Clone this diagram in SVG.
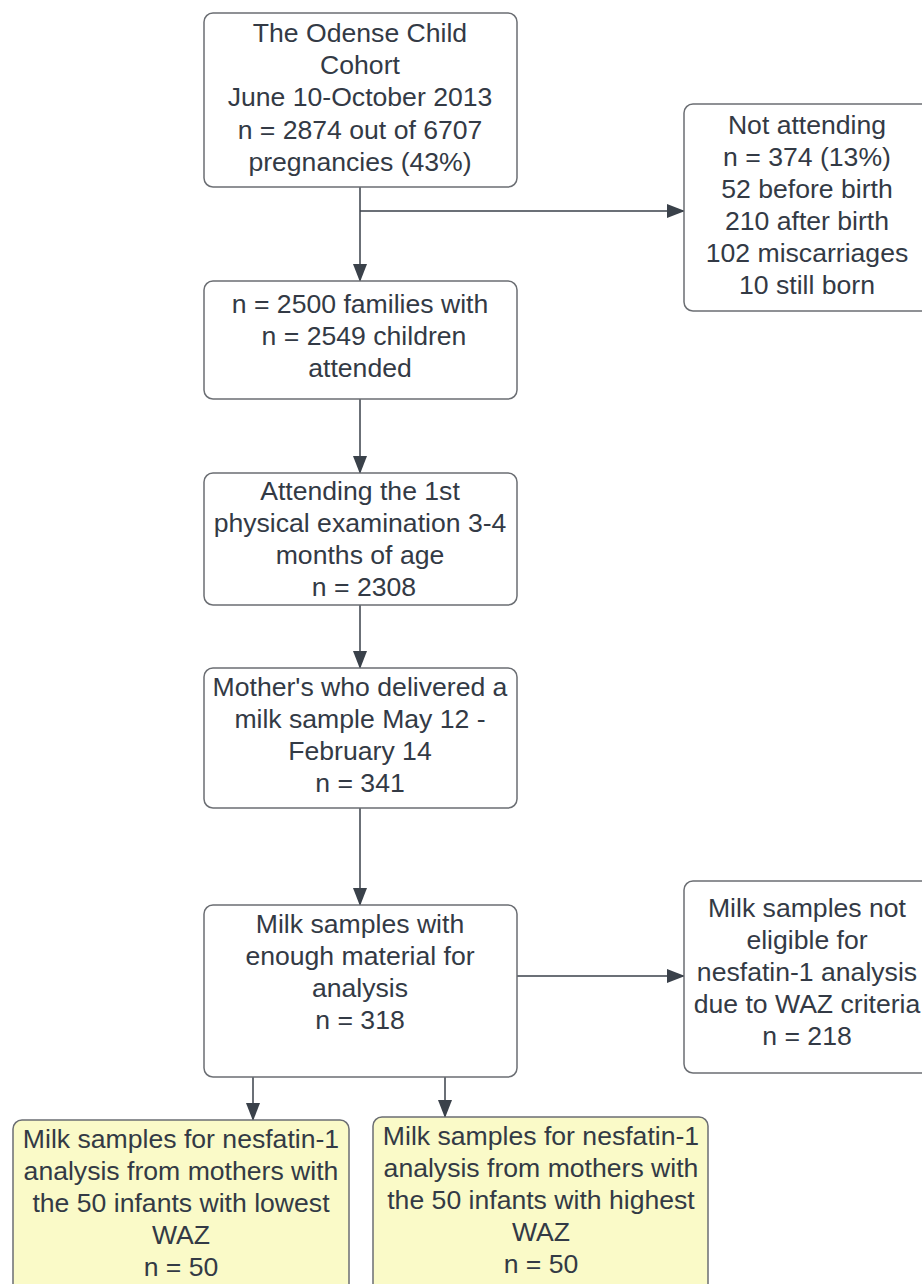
<svg xmlns="http://www.w3.org/2000/svg" width="922" height="1284" viewBox="0 0 922 1284">
<defs>
<style>
.box{fill:#ffffff;stroke:#6b6e73;stroke-width:1.5}
.yel{fill:#fafac8;stroke:#6b6e73;stroke-width:1.5}
text{font-family:"Liberation Sans",Arial,sans-serif;font-size:26.6px;fill:#333a45;text-anchor:middle}
.con{fill:none;stroke:#3a414a;stroke-width:1.5}
</style>
<marker id="arr" viewBox="0 0 18 14" refX="17" refY="7" markerWidth="18" markerHeight="14" markerUnits="userSpaceOnUse" orient="auto">
<path d="M0,0 L18,7 L0,14 Z" fill="#3a414a"/>
</marker>
</defs>
<rect width="922" height="1284" fill="#ffffff"/>
<g id="connectors">
<path class="con" d="M360,187 V281" marker-end="url(#arr)"/>
<path class="con" d="M360,211 H684" marker-end="url(#arr)"/>
<path class="con" d="M360,399 V473" marker-end="url(#arr)"/>
<path class="con" d="M360,605 V668" marker-end="url(#arr)"/>
<path class="con" d="M360,808 V905" marker-end="url(#arr)"/>
<path class="con" d="M517,976 H684" marker-end="url(#arr)"/>
<path class="con" d="M253,1077 V1120" marker-end="url(#arr)"/>
<path class="con" d="M445,1077 V1117" marker-end="url(#arr)"/>
</g>
<g id="cohort">
<rect class="box" x="204" y="13" width="313" height="174" rx="9"/>
<text x="360" y="42">The Odense Child</text>
<text x="360" y="74">Cohort</text>
<text x="360" y="106">June 10-October 2013</text>
<text x="360" y="139">n = 2874 out of 6707</text>
<text x="360" y="171">pregnancies (43%)</text>
</g>
<g id="not-attending">
<rect class="box" x="684" y="104" width="250" height="207" rx="9"/>
<text x="807" y="134">Not attending</text>
<text x="807" y="166">n = 374 (13%)</text>
<text x="807" y="198">52 before birth</text>
<text x="807" y="230">210 after birth</text>
<text x="807" y="262">102 miscarriages</text>
<text x="807" y="294">10 still born</text>
</g>
<g id="attended">
<rect class="box" x="204" y="281" width="313" height="118" rx="9"/>
<text x="360" y="313">n = 2500 families with</text>
<text x="364" y="345">n = 2549 children</text>
<text x="360" y="377">attended</text>
</g>
<g id="exam">
<rect class="box" x="204" y="473" width="313" height="132" rx="9"/>
<text x="360" y="500">Attending the 1st</text>
<text x="360" y="532">physical examination 3-4</text>
<text x="360" y="564">months of age</text>
<text x="364" y="596">n = 2308</text>
</g>
<g id="milk-delivered">
<rect class="box" x="204" y="668" width="313" height="140" rx="9"/>
<text x="360" y="696">Mother's who delivered a</text>
<text x="360" y="728">milk sample May 12 -</text>
<text x="360" y="760">February 14</text>
<text x="360" y="792">n = 341</text>
</g>
<g id="enough-material">
<rect class="box" x="204" y="905" width="313" height="172" rx="9"/>
<text x="360" y="933">Milk samples with</text>
<text x="360" y="965">enough material for</text>
<text x="360" y="997">analysis</text>
<text x="360" y="1029">n = 318</text>
</g>
<g id="not-eligible">
<rect class="box" x="684" y="881" width="250" height="192" rx="9"/>
<text x="807" y="917">Milk samples not</text>
<text x="807" y="949">eligible for</text>
<text x="807" y="981">nesfatin-1 analysis</text>
<text x="807" y="1013">due to WAZ criteria</text>
<text x="807" y="1045">n = 218</text>
</g>
<g id="lowest-waz">
<rect class="yel" x="13" y="1120" width="336" height="180" rx="9"/>
<text x="181" y="1148">Milk samples for nesfatin-1</text>
<text x="181" y="1180">analysis from mothers with</text>
<text x="181" y="1212">the 50 infants with lowest</text>
<text x="181" y="1244">WAZ</text>
<text x="181" y="1276">n = 50</text>
</g>
<g id="highest-waz">
<rect class="yel" x="373" y="1117" width="335" height="183" rx="9"/>
<text x="541" y="1145">Milk samples for nesfatin-1</text>
<text x="541" y="1177">analysis from mothers with</text>
<text x="541" y="1209">the 50 infants with highest</text>
<text x="541" y="1241">WAZ</text>
<text x="541" y="1273">n = 50</text>
</g>
</svg>
